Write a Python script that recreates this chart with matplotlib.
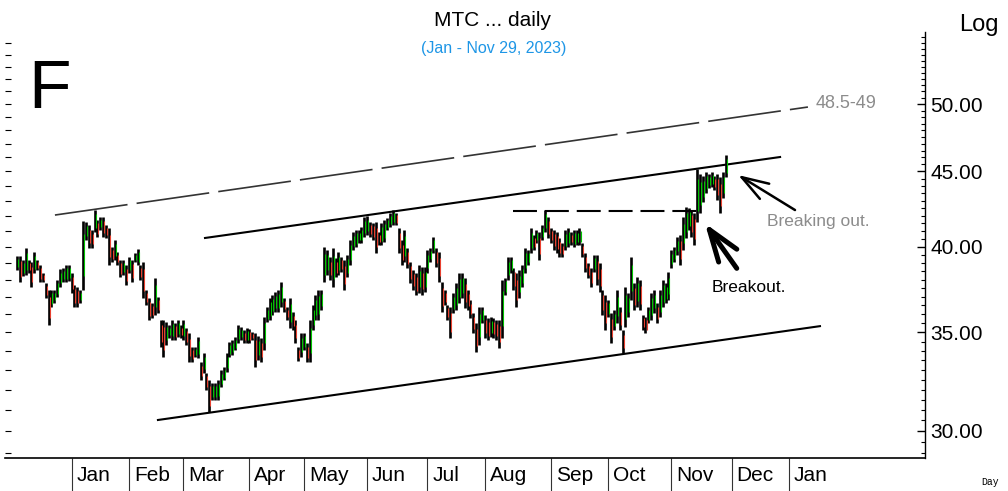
import numpy as np
import pandas as pd
import matplotlib
matplotlib.use("Agg")
import matplotlib.pyplot as plt
from matplotlib.ticker import FixedLocator, NullFormatter, NullLocator, FuncFormatter
import matplotlib.transforms as mtransforms

plt.rcParams["font.family"] = ["Liberation Sans", "DejaVu Sans"]

# daily highs / lows (Dec 5 2022 .. Nov 29 2023), one list per month
dec_hi = [39.43, 39.43, 39.18, 39.92, 39.18, 39.06, 39.68, 39.18, 38.88, 38.40, 37.80, 37.39, 37.39, 37.39, 37.98, 38.64, 38.70, 38.88, 38.88]
dec_lo = [38.58, 37.86, 38.22, 38.28, 38.40, 37.56, 38.40, 38.58, 37.86, 37.86, 36.93, 35.40, 36.41, 36.64, 36.98, 37.56, 37.86, 37.86, 37.92]
jan_hi = [38.40, 37.68, 37.56, 37.39, 41.64, 41.58, 41.39, 41.07, 42.37, 41.71, 41.91, 41.91, 41.39, 41.20, 39.99, 40.43, 39.68, 39.18, 39.18, 38.88]
jan_lo = [37.21, 36.41, 36.41, 36.64, 37.39, 40.43, 39.92, 39.92, 40.94, 40.62, 41.07, 40.62, 40.56, 38.88, 39.06, 39.18, 38.88, 38.16, 38.28, 37.68]
feb_hi = [39.37, 39.18, 39.61, 39.86, 38.88, 39.06, 37.39, 36.93, 36.64, 38.10, 36.98, 35.68, 35.68, 35.57, 35.40, 35.68, 35.51, 35.68, 35.40]
feb_lo = [38.40, 37.86, 39.06, 38.88, 37.98, 36.93, 36.52, 35.68, 35.79, 35.96, 36.07, 34.20, 33.67, 34.31, 34.69, 34.58, 34.58, 34.74, 34.69]
mar_hi = [35.68, 35.23, 34.96, 34.20, 34.20, 34.74, 33.41, 33.88, 32.84, 32.48, 32.33, 32.33, 32.48, 32.99, 33.15, 33.88, 34.47, 34.58, 34.74, 35.40, 35.29, 35.12, 35.23]
mar_lo = [34.58, 34.31, 33.41, 33.41, 33.67, 33.62, 32.48, 32.84, 31.98, 30.90, 31.49, 31.49, 31.49, 32.13, 32.48, 32.89, 33.67, 33.78, 34.04, 34.42, 34.58, 34.42, 34.42]
apr_hi = [35.18, 35.01, 34.96, 34.80, 34.69, 35.85, 36.41, 36.93, 37.10, 37.27, 37.39, 37.86, 36.93, 36.41, 36.93, 36.13, 35.68, 34.20, 34.96]
apr_lo = [34.42, 34.58, 33.15, 33.51, 33.41, 34.04, 35.57, 35.68, 35.96, 36.13, 36.13, 36.41, 36.13, 35.68, 35.23, 35.12, 34.42, 33.46, 33.67]
may_hi = [34.96, 34.42, 35.68, 36.52, 37.10, 37.39, 37.39, 39.99, 39.80, 39.37, 39.92, 39.30, 39.68, 39.37, 39.18, 39.49, 40.43, 40.94, 41.07, 41.07, 41.26, 41.91]
may_lo = [34.04, 33.41, 33.41, 35.12, 35.68, 35.68, 36.24, 37.86, 38.28, 37.98, 37.56, 38.16, 38.28, 38.46, 37.39, 38.16, 38.88, 39.80, 39.99, 40.24, 40.24, 40.62]
jun_hi = [41.97, 41.58, 41.52, 41.58, 40.94, 41.52, 41.71, 41.84, 42.17, 42.37, 42.17, 41.20, 40.43, 41.07, 39.92, 39.06, 38.58, 38.40, 38.88, 38.76, 38.76]
jun_lo = [40.75, 40.62, 40.43, 39.61, 40.11, 40.11, 40.30, 41.07, 41.26, 41.39, 41.39, 39.61, 38.88, 39.06, 38.70, 37.80, 37.39, 37.10, 37.21, 37.10, 37.27]
jul_hi = [39.80, 39.92, 40.62, 39.92, 39.68, 37.86, 37.39, 36.52, 36.41, 37.21, 37.80, 38.40, 38.40, 38.10, 37.39, 36.81, 36.07, 35.51, 36.41, 36.41]
jul_lo = [38.40, 39.06, 39.61, 38.76, 37.86, 36.13, 36.52, 35.68, 34.69, 36.07, 36.24, 36.64, 36.93, 36.35, 36.24, 35.79, 34.96, 33.93, 34.31, 35.51]
aug_hi = [35.96, 35.79, 35.85, 35.79, 35.68, 35.68, 37.98, 38.10, 39.37, 39.37, 38.70, 38.40, 38.58, 38.88, 39.92, 39.80, 41.20, 40.75, 41.07, 40.94, 41.39, 42.37, 41.91]
aug_lo = [34.69, 34.58, 34.74, 34.69, 34.58, 34.15, 34.69, 37.10, 37.98, 38.40, 37.39, 36.41, 36.93, 37.56, 38.40, 38.88, 39.61, 39.80, 40.24, 39.18, 40.43, 40.94, 40.56]
sep_hi = [41.20, 41.07, 40.94, 40.56, 40.24, 41.07, 41.20, 40.94, 41.07, 41.07, 41.20, 40.24, 39.61, 39.00, 38.70, 39.49, 39.49, 39.00, 37.39, 37.10]
sep_lo = [40.24, 39.80, 39.61, 39.37, 39.37, 39.80, 39.99, 40.11, 39.99, 40.11, 40.11, 39.37, 38.46, 38.10, 37.56, 38.46, 37.68, 37.27, 35.96, 35.12]
oct_hi = [36.81, 36.07, 36.24, 37.39, 36.41, 35.12, 37.56, 37.21, 39.37, 37.80, 38.16, 37.98, 35.96, 35.85, 36.41, 37.21, 37.39, 36.64, 37.39, 37.98, 37.80, 38.46]
oct_lo = [35.85, 34.42, 35.12, 35.51, 35.12, 33.88, 35.29, 35.85, 36.81, 36.24, 36.41, 36.24, 35.12, 34.96, 35.51, 35.68, 36.07, 35.51, 35.85, 36.41, 36.64, 36.81]
nov_hi = [39.80, 39.99, 40.62, 40.75, 41.91, 42.57, 42.50, 42.37, 42.17, 45.17, 44.82, 44.68, 44.96, 44.82, 44.96, 44.68, 44.82, 44.61, 44.96, 46.17]
nov_lo = [38.70, 39.06, 39.49, 38.88, 39.80, 40.56, 41.07, 40.62, 40.11, 41.58, 42.17, 42.90, 43.51, 43.85, 43.92, 43.72, 43.04, 42.17, 43.17, 44.61]

month_names = ["Jan", "Feb", "Mar", "Apr", "May", "Jun", "Jul", "Aug", "Sep", "Oct", "Nov", "Dec", "Jan"]
holidays = ["2022-12-26", "2023-01-02", "2023-01-16", "2023-02-20", "2023-04-07", "2023-05-29",
            "2023-06-19", "2023-07-04", "2023-09-04", "2023-11-23", "2023-12-25", "2024-01-01"]

# trend lines: (bar index, price) end points
long_dash_x = [13.2, 275.6]
long_dash_y = [42.04, 49.77]
upper_x = [65.5, 265.9]
upper_y = [40.56, 46.03]
support_x = [49.1, 279.8]
support_y = [30.52, 35.34]
pivot_x = [172.8, 236.9]
pivot_y = [42.33, 42.33]

highs = np.array(dec_hi + jan_hi + feb_hi + mar_hi + apr_hi + may_hi + jun_hi + jul_hi
                 + aug_hi + sep_hi + oct_hi + nov_hi)
lows = np.array(dec_lo + jan_lo + feb_lo + mar_lo + apr_lo + may_lo + jun_lo + jul_lo
                + aug_lo + sep_lo + oct_lo + nov_lo)
x = np.arange(len(highs))

# trading calendar for month ticks
days = pd.bdate_range("2022-12-05", "2024-01-31", freq="C", holidays=holidays)
month_key = days.year * 12 + days.month
first = np.r_[True, month_key[1:] != month_key[:-1]]
tick_idx = np.flatnonzero(first)[1:14]

fig = plt.figure(figsize=(10.08, 4.91), dpi=100)
ax = fig.add_axes([5 / 1008, 33 / 491, 920 / 1008, 426 / 491])
ax.set_yscale("log")
ax.set_ylim(28.76, 55.96)
ax.set_xlim(-4.2, 316.4)

# bars: black high-low with a coloured strip
mids = (highs + lows) / 2
prev = np.r_[mids[0], mids[:-1]]
cols = np.where(mids >= prev, "#00c400", "#e8402f")
ax.vlines(x, lows, highs, color="black", lw=1.9, zorder=3)
rng = highs - lows
ax.vlines(x + 0.35, lows + 0.2 * rng, highs - 0.2 * rng, color=cols, lw=0.8, zorder=4)

# trend lines
ax.plot(long_dash_x, long_dash_y, color="#333333", lw=1.2, dashes=(44, 5.5), zorder=2)
ax.plot(upper_x, upper_y, color="black", lw=1.5, zorder=2)
ax.plot(support_x, support_y, color="black", lw=1.5, zorder=2)
ax.plot(pivot_x, pivot_y, color="black", lw=1.5, dashes=(11.5, 3.8), zorder=2)

ax.annotate("", xy=(239.7, 41.50), xytext=(250.8, 38.68),
            arrowprops=dict(arrowstyle="->,head_length=1.15,head_width=0.4", lw=3.6,
                            color="black", shrinkA=0, shrinkB=0, mutation_scale=20))
ax.annotate("", xy=(251.3, 44.75), xytext=(271.1, 42.37),
            arrowprops=dict(arrowstyle="->,head_length=0.97,head_width=0.32", lw=1.8,
                            color="black", shrinkA=0, shrinkB=0, mutation_scale=20))
ax.text(242.2, 37.56, "Breakout.", ha="left", va="center", fontsize=12.5, color="black")
ax.text(261.3, 41.64, "Breaking out.", ha="left", va="center", fontsize=12.5, color="#8c8c8c")
ax.text(278.4, 50.08, "48.5-49", ha="left", va="center", fontsize=13, color="#8c8c8c")

# axes styling
for s in ["top", "left"]:
    ax.spines[s].set_visible(False)
ax.spines["right"].set_linewidth(1.0)
ax.spines["bottom"].set_linewidth(1.2)

ax.yaxis.tick_right()
ax.yaxis.set_major_locator(FixedLocator([30, 35, 40, 45, 50]))
ax.yaxis.set_major_formatter(FuncFormatter(lambda v, _: f"{v:.2f}"))
ax.yaxis.set_minor_locator(FixedLocator(np.arange(29, 56, 0.5)))
ax.yaxis.set_minor_formatter(NullFormatter())
ax.tick_params(axis="y", which="major", direction="in", length=6, width=1, labelsize=15, pad=4)
ax.tick_params(axis="y", which="minor", direction="in", length=3, width=0.8)

sec = ax.secondary_yaxis("left")
sec.yaxis.set_major_locator(FixedLocator(np.arange(29, 56, 1)))
sec.yaxis.set_minor_locator(NullLocator())
sec.yaxis.set_major_formatter(NullFormatter())
sec.tick_params(direction="in", length=4, width=0.8)
sec.spines["left"].set_visible(False)

ax.set_xticks(tick_idx)
ax.set_xticklabels([])
ax.tick_params(axis="x", length=24, width=0.8, direction="out", color="#333333")
trans = mtransforms.blended_transform_factory(ax.transData, ax.transAxes)
for i, name in zip(tick_idx, month_names):
    ax.text(i + 1.7, -0.042, name, transform=trans, ha="left", va="center",
            fontsize=15, family=["Liberation Sans Narrow", "Liberation Sans"])

fig.text(0.489, 0.959, "MTC ... daily", ha="center", va="center", fontsize=15)
fig.text(0.490, 0.902, "(Jan - Nov 29, 2023)", ha="center", va="center", fontsize=11.5, color="#1e96e6")
fig.text(0.028, 0.780, "F", ha="left", va="baseline", fontsize=50)
fig.text(0.952, 0.949, "Log", ha="left", va="center", fontsize=17)
fig.text(0.982, 0.018, "Day", ha="center", va="center", fontsize=7, family=["Liberation Mono", "DejaVu Sans Mono"])

fig.savefig("out.png", dpi=100, facecolor="white")
